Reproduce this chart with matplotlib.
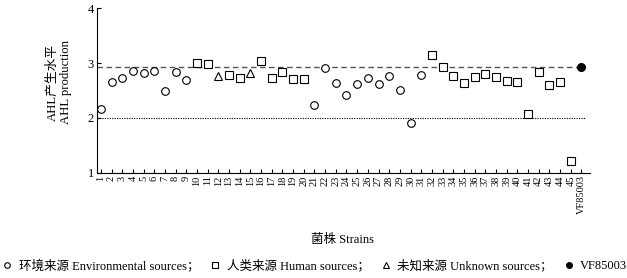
import matplotlib
matplotlib.use('Agg')
from matplotlib import pyplot as plt
from matplotlib.lines import Line2D

plt.rcParams['font.family'] = ['Liberation Serif', 'Noto Sans CJK SC', 'DejaVu Sans']

# strain labels
strains = [str(i) for i in range(1, 46)] + ['VF85003']

# AHL production per strain, grouped by source (strain number, value)
env_x = [1, 2, 3, 4, 5, 6, 7, 8, 9, 21, 22, 23, 24, 25, 26, 27, 28, 29, 30, 31]
env_y = [2.17, 2.65, 2.73, 2.86, 2.82, 2.86, 2.49, 2.84, 2.69, 2.23,
         2.91, 2.63, 2.42, 2.62, 2.72, 2.62, 2.77, 2.50, 1.91, 2.79]

human_x = [10, 11, 13, 14, 16, 17, 18, 19, 20,
           32, 33, 34, 35, 36, 37, 38, 39, 40, 41, 42, 43, 44, 45]
human_y = [3.00, 2.98, 2.79, 2.73, 3.04, 2.73, 2.84, 2.71, 2.71,
           3.14, 2.92, 2.77, 2.64, 2.74, 2.80, 2.74, 2.68, 2.66, 2.07, 2.84, 2.60, 2.66, 1.21]

unknown_x = [12, 15]
unknown_y = [2.76, 2.82]

ref_x = [46]
ref_y = [2.92]

ref_level = 2.92
threshold = 2.0

fig = plt.figure(figsize=(6.27, 2.78), dpi=100)
ax = fig.add_axes([0.154, 0.379, 0.787, 0.591])

mk = dict(mfc='white', mec='black', ms=5.5, mew=0.8, ls='', zorder=3)
ax.plot(env_x, env_y, marker='o', **mk)
ax.plot(human_x, human_y, marker='s', **mk)
ax.plot(unknown_x, unknown_y, marker='^', **mk)
ax.plot(ref_x, ref_y, 'o', mfc='black', mec='black', ms=5.5, zorder=3)

ax.set_xlim(0.6, 46.8)
ax.set_ylim(1, 4)
ax.plot([0.6, 46.3], [ref_level, ref_level], color='#555555', linestyle=(0, (4, 2.5)), lw=1.0)
ax.plot([0.6, 46.3], [threshold, threshold], color='black', linestyle=(0, (1, 1.2)), lw=0.8)

ax.set_xticks(range(1, 47))
ax.set_xticklabels(strains, rotation=90, fontsize=7.5)
ax.set_yticks([1, 2, 3, 4])
ax.tick_params(axis='y', direction='in', length=3, labelsize=9, pad=2)
ax.tick_params(axis='x', direction='in', length=3, pad=2)
for s in ['top', 'right']:
    ax.spines[s].set_visible(False)
for s in ['left', 'bottom']:
    ax.spines[s].set_linewidth(0.8)

ax.set_ylabel('AHL产生水平\nAHL production', fontsize=9.2, linespacing=1.15)
ax.yaxis.set_label_coords(-0.049, 0.55)
fig.text(0.547, 0.135, '菌株 Strains', fontsize=9, ha='center', va='center')

handles = [
    Line2D([], [], ls='', marker='o', mfc='white', mec='black', ms=4, mew=0.8),
    Line2D([], [], ls='', marker='s', mfc='white', mec='black', ms=4, mew=0.8),
    Line2D([], [], ls='', marker='^', mfc='white', mec='black', ms=4, mew=0.8),
    Line2D([], [], ls='', marker='o', mfc='black', mec='black', ms=4),
]
labels = ['环境来源 Environmental sources；', '人类来源 Human sources；',
          '未知来源 Unknown sources；', 'VF85003']
fig.legend(handles, labels, loc='center', bbox_to_anchor=(0.502, 0.045), ncol=4,
           frameon=False, fontsize=9, handlelength=0.8, handletextpad=0.5,
           columnspacing=0.9, borderpad=0)

plt.savefig('out.png', dpi=100)
